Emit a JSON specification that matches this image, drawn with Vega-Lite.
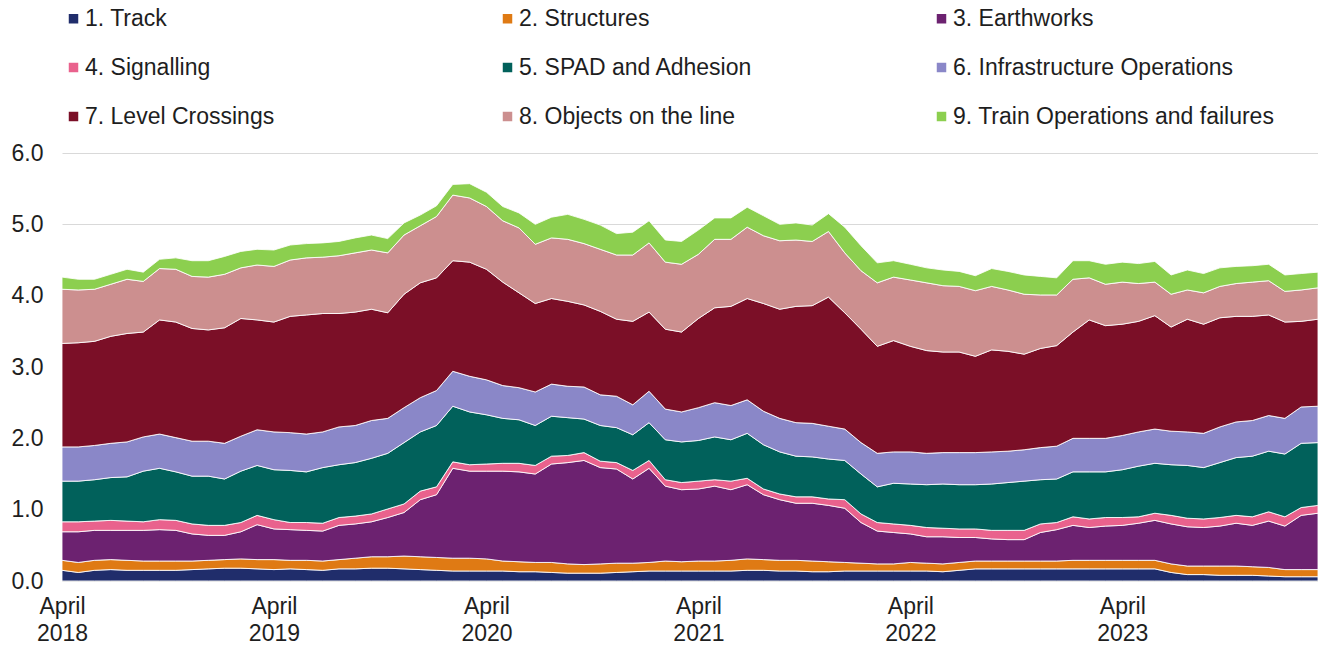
{
  "$schema": "https://vega.github.io/schema/vega-lite/v6.json",
  "width": 1256,
  "height": 428,
  "autosize": {"type": "none"},
  "padding": {"left": 62, "top": 153, "right": 0, "bottom": 66},
  "background": "white",
  "config": {
    "font": "Liberation Sans",
    "view": {"stroke": null}
  },
  "data": {
    "values": [
      {"date":"2018-04-01","1 Track":0.15,"2 Structures":0.14,"3 Earthworks":0.40,"4 Signalling":0.14,"5 SPAD and Adhesion":0.57,"6 Infrastructure Operations":0.48,"7 Level Crossings":1.45,"8 Objects on the line":0.76,"9 Train Operations and failures":0.17},
      {"date":"2018-04-29","1 Track":0.12,"2 Structures":0.14,"3 Earthworks":0.43,"4 Signalling":0.14,"5 SPAD and Adhesion":0.57,"6 Infrastructure Operations":0.48,"7 Level Crossings":1.46,"8 Objects on the line":0.74,"9 Train Operations and failures":0.15},
      {"date":"2018-05-27","1 Track":0.15,"2 Structures":0.14,"3 Earthworks":0.42,"4 Signalling":0.13,"5 SPAD and Adhesion":0.58,"6 Infrastructure Operations":0.48,"7 Level Crossings":1.46,"8 Objects on the line":0.73,"9 Train Operations and failures":0.14},
      {"date":"2018-06-24","1 Track":0.16,"2 Structures":0.14,"3 Earthworks":0.41,"4 Signalling":0.14,"5 SPAD and Adhesion":0.60,"6 Infrastructure Operations":0.48,"7 Level Crossings":1.50,"8 Objects on the line":0.73,"9 Train Operations and failures":0.14},
      {"date":"2018-07-22","1 Track":0.15,"2 Structures":0.14,"3 Earthworks":0.42,"4 Signalling":0.13,"5 SPAD and Adhesion":0.62,"6 Infrastructure Operations":0.49,"7 Level Crossings":1.52,"8 Objects on the line":0.76,"9 Train Operations and failures":0.14},
      {"date":"2018-08-19","1 Track":0.15,"2 Structures":0.13,"3 Earthworks":0.43,"4 Signalling":0.12,"5 SPAD and Adhesion":0.71,"6 Infrastructure Operations":0.48,"7 Level Crossings":1.47,"8 Objects on the line":0.71,"9 Train Operations and failures":0.13},
      {"date":"2018-09-16","1 Track":0.15,"2 Structures":0.13,"3 Earthworks":0.44,"4 Signalling":0.14,"5 SPAD and Adhesion":0.72,"6 Infrastructure Operations":0.48,"7 Level Crossings":1.60,"8 Objects on the line":0.72,"9 Train Operations and failures":0.13},
      {"date":"2018-10-14","1 Track":0.15,"2 Structures":0.13,"3 Earthworks":0.43,"4 Signalling":0.14,"5 SPAD and Adhesion":0.68,"6 Infrastructure Operations":0.48,"7 Level Crossings":1.62,"8 Objects on the line":0.74,"9 Train Operations and failures":0.16},
      {"date":"2018-11-11","1 Track":0.16,"2 Structures":0.12,"3 Earthworks":0.38,"4 Signalling":0.14,"5 SPAD and Adhesion":0.67,"6 Infrastructure Operations":0.49,"7 Level Crossings":1.58,"8 Objects on the line":0.73,"9 Train Operations and failures":0.22},
      {"date":"2018-12-09","1 Track":0.17,"2 Structures":0.12,"3 Earthworks":0.35,"4 Signalling":0.14,"5 SPAD and Adhesion":0.69,"6 Infrastructure Operations":0.49,"7 Level Crossings":1.56,"8 Objects on the line":0.74,"9 Train Operations and failures":0.23},
      {"date":"2019-01-06","1 Track":0.18,"2 Structures":0.12,"3 Earthworks":0.34,"4 Signalling":0.14,"5 SPAD and Adhesion":0.65,"6 Infrastructure Operations":0.50,"7 Level Crossings":1.62,"8 Objects on the line":0.75,"9 Train Operations and failures":0.25},
      {"date":"2019-02-03","1 Track":0.18,"2 Structures":0.13,"3 Earthworks":0.38,"4 Signalling":0.13,"5 SPAD and Adhesion":0.72,"6 Infrastructure Operations":0.49,"7 Level Crossings":1.65,"8 Objects on the line":0.71,"9 Train Operations and failures":0.23},
      {"date":"2019-03-03","1 Track":0.17,"2 Structures":0.13,"3 Earthworks":0.49,"4 Signalling":0.13,"5 SPAD and Adhesion":0.70,"6 Infrastructure Operations":0.50,"7 Level Crossings":1.54,"8 Objects on the line":0.77,"9 Train Operations and failures":0.22},
      {"date":"2019-04-01","1 Track":0.16,"2 Structures":0.14,"3 Earthworks":0.43,"4 Signalling":0.13,"5 SPAD and Adhesion":0.70,"6 Infrastructure Operations":0.53,"7 Level Crossings":1.54,"8 Objects on the line":0.78,"9 Train Operations and failures":0.23},
      {"date":"2019-04-29","1 Track":0.17,"2 Structures":0.12,"3 Earthworks":0.43,"4 Signalling":0.10,"5 SPAD and Adhesion":0.73,"6 Infrastructure Operations":0.53,"7 Level Crossings":1.63,"8 Objects on the line":0.79,"9 Train Operations and failures":0.21},
      {"date":"2019-05-27","1 Track":0.16,"2 Structures":0.13,"3 Earthworks":0.42,"4 Signalling":0.11,"5 SPAD and Adhesion":0.71,"6 Infrastructure Operations":0.53,"7 Level Crossings":1.67,"8 Objects on the line":0.80,"9 Train Operations and failures":0.20},
      {"date":"2019-06-24","1 Track":0.15,"2 Structures":0.13,"3 Earthworks":0.42,"4 Signalling":0.11,"5 SPAD and Adhesion":0.78,"6 Infrastructure Operations":0.50,"7 Level Crossings":1.66,"8 Objects on the line":0.79,"9 Train Operations and failures":0.20},
      {"date":"2019-07-22","1 Track":0.17,"2 Structures":0.13,"3 Earthworks":0.48,"4 Signalling":0.11,"5 SPAD and Adhesion":0.74,"6 Infrastructure Operations":0.53,"7 Level Crossings":1.59,"8 Objects on the line":0.81,"9 Train Operations and failures":0.20},
      {"date":"2019-08-19","1 Track":0.17,"2 Structures":0.15,"3 Earthworks":0.48,"4 Signalling":0.11,"5 SPAD and Adhesion":0.75,"6 Infrastructure Operations":0.52,"7 Level Crossings":1.59,"8 Objects on the line":0.83,"9 Train Operations and failures":0.21},
      {"date":"2019-09-16","1 Track":0.18,"2 Structures":0.16,"3 Earthworks":0.49,"4 Signalling":0.11,"5 SPAD and Adhesion":0.78,"6 Infrastructure Operations":0.53,"7 Level Crossings":1.56,"8 Objects on the line":0.83,"9 Train Operations and failures":0.21},
      {"date":"2019-10-14","1 Track":0.18,"2 Structures":0.16,"3 Earthworks":0.55,"4 Signalling":0.12,"5 SPAD and Adhesion":0.78,"6 Infrastructure Operations":0.49,"7 Level Crossings":1.48,"8 Objects on the line":0.84,"9 Train Operations and failures":0.20},
      {"date":"2019-11-11","1 Track":0.17,"2 Structures":0.18,"3 Earthworks":0.61,"4 Signalling":0.12,"5 SPAD and Adhesion":0.86,"6 Infrastructure Operations":0.49,"7 Level Crossings":1.59,"8 Objects on the line":0.83,"9 Train Operations and failures":0.17},
      {"date":"2019-12-09","1 Track":0.16,"2 Structures":0.18,"3 Earthworks":0.80,"4 Signalling":0.12,"5 SPAD and Adhesion":0.83,"6 Infrastructure Operations":0.48,"7 Level Crossings":1.61,"8 Objects on the line":0.80,"9 Train Operations and failures":0.15},
      {"date":"2020-01-06","1 Track":0.15,"2 Structures":0.18,"3 Earthworks":0.88,"4 Signalling":0.11,"5 SPAD and Adhesion":0.86,"6 Infrastructure Operations":0.49,"7 Level Crossings":1.58,"8 Objects on the line":0.86,"9 Train Operations and failures":0.15},
      {"date":"2020-02-03","1 Track":0.14,"2 Structures":0.18,"3 Earthworks":1.26,"4 Signalling":0.09,"5 SPAD and Adhesion":0.78,"6 Infrastructure Operations":0.49,"7 Level Crossings":1.55,"8 Objects on the line":0.92,"9 Train Operations and failures":0.15},
      {"date":"2020-03-03","1 Track":0.14,"2 Structures":0.18,"3 Earthworks":1.22,"4 Signalling":0.09,"5 SPAD and Adhesion":0.74,"6 Infrastructure Operations":0.50,"7 Level Crossings":1.60,"8 Objects on the line":0.90,"9 Train Operations and failures":0.20},
      {"date":"2020-04-01","1 Track":0.14,"2 Structures":0.17,"3 Earthworks":1.23,"4 Signalling":0.10,"5 SPAD and Adhesion":0.69,"6 Infrastructure Operations":0.49,"7 Level Crossings":1.55,"8 Objects on the line":0.88,"9 Train Operations and failures":0.20},
      {"date":"2020-04-29","1 Track":0.14,"2 Structures":0.14,"3 Earthworks":1.26,"4 Signalling":0.11,"5 SPAD and Adhesion":0.63,"6 Infrastructure Operations":0.46,"7 Level Crossings":1.45,"8 Objects on the line":0.86,"9 Train Operations and failures":0.20},
      {"date":"2020-05-27","1 Track":0.13,"2 Structures":0.14,"3 Earthworks":1.26,"4 Signalling":0.12,"5 SPAD and Adhesion":0.61,"6 Infrastructure Operations":0.45,"7 Level Crossings":1.33,"8 Objects on the line":0.91,"9 Train Operations and failures":0.21},
      {"date":"2020-06-24","1 Track":0.13,"2 Structures":0.13,"3 Earthworks":1.24,"4 Signalling":0.12,"5 SPAD and Adhesion":0.56,"6 Infrastructure Operations":0.47,"7 Level Crossings":1.24,"8 Objects on the line":0.83,"9 Train Operations and failures":0.28},
      {"date":"2020-07-22","1 Track":0.12,"2 Structures":0.14,"3 Earthworks":1.38,"4 Signalling":0.11,"5 SPAD and Adhesion":0.56,"6 Infrastructure Operations":0.45,"7 Level Crossings":1.20,"8 Objects on the line":0.85,"9 Train Operations and failures":0.29},
      {"date":"2020-08-19","1 Track":0.11,"2 Structures":0.13,"3 Earthworks":1.42,"4 Signalling":0.10,"5 SPAD and Adhesion":0.53,"6 Infrastructure Operations":0.44,"7 Level Crossings":1.19,"8 Objects on the line":0.87,"9 Train Operations and failures":0.35},
      {"date":"2020-09-16","1 Track":0.11,"2 Structures":0.12,"3 Earthworks":1.46,"4 Signalling":0.11,"5 SPAD and Adhesion":0.47,"6 Infrastructure Operations":0.45,"7 Level Crossings":1.15,"8 Objects on the line":0.86,"9 Train Operations and failures":0.34},
      {"date":"2020-10-14","1 Track":0.11,"2 Structures":0.13,"3 Earthworks":1.35,"4 Signalling":0.09,"5 SPAD and Adhesion":0.50,"6 Infrastructure Operations":0.43,"7 Level Crossings":1.17,"8 Objects on the line":0.87,"9 Train Operations and failures":0.34},
      {"date":"2020-11-11","1 Track":0.12,"2 Structures":0.13,"3 Earthworks":1.32,"4 Signalling":0.09,"5 SPAD and Adhesion":0.49,"6 Infrastructure Operations":0.44,"7 Level Crossings":1.08,"8 Objects on the line":0.90,"9 Train Operations and failures":0.30},
      {"date":"2020-12-09","1 Track":0.13,"2 Structures":0.12,"3 Earthworks":1.18,"4 Signalling":0.12,"5 SPAD and Adhesion":0.50,"6 Infrastructure Operations":0.42,"7 Level Crossings":1.17,"8 Objects on the line":0.93,"9 Train Operations and failures":0.32},
      {"date":"2021-01-06","1 Track":0.14,"2 Structures":0.12,"3 Earthworks":1.32,"4 Signalling":0.11,"5 SPAD and Adhesion":0.53,"6 Infrastructure Operations":0.44,"7 Level Crossings":1.11,"8 Objects on the line":0.97,"9 Train Operations and failures":0.31},
      {"date":"2021-02-03","1 Track":0.14,"2 Structures":0.14,"3 Earthworks":1.05,"4 Signalling":0.09,"5 SPAD and Adhesion":0.56,"6 Infrastructure Operations":0.43,"7 Level Crossings":1.12,"8 Objects on the line":0.94,"9 Train Operations and failures":0.31},
      {"date":"2021-03-03","1 Track":0.14,"2 Structures":0.13,"3 Earthworks":1.01,"4 Signalling":0.10,"5 SPAD and Adhesion":0.57,"6 Infrastructure Operations":0.42,"7 Level Crossings":1.12,"8 Objects on the line":0.95,"9 Train Operations and failures":0.32},
      {"date":"2021-04-01","1 Track":0.14,"2 Structures":0.14,"3 Earthworks":1.01,"4 Signalling":0.11,"5 SPAD and Adhesion":0.57,"6 Infrastructure Operations":0.46,"7 Level Crossings":1.25,"8 Objects on the line":0.90,"9 Train Operations and failures":0.34},
      {"date":"2021-04-29","1 Track":0.14,"2 Structures":0.14,"3 Earthworks":1.05,"4 Signalling":0.09,"5 SPAD and Adhesion":0.60,"6 Infrastructure Operations":0.48,"7 Level Crossings":1.33,"8 Objects on the line":0.96,"9 Train Operations and failures":0.30},
      {"date":"2021-05-27","1 Track":0.14,"2 Structures":0.15,"3 Earthworks":0.99,"4 Signalling":0.12,"5 SPAD and Adhesion":0.58,"6 Infrastructure Operations":0.48,"7 Level Crossings":1.39,"8 Objects on the line":0.94,"9 Train Operations and failures":0.30},
      {"date":"2021-06-24","1 Track":0.15,"2 Structures":0.16,"3 Earthworks":1.04,"4 Signalling":0.09,"5 SPAD and Adhesion":0.63,"6 Infrastructure Operations":0.47,"7 Level Crossings":1.42,"8 Objects on the line":1.00,"9 Train Operations and failures":0.28},
      {"date":"2021-07-22","1 Track":0.15,"2 Structures":0.15,"3 Earthworks":0.91,"4 Signalling":0.08,"5 SPAD and Adhesion":0.62,"6 Infrastructure Operations":0.47,"7 Level Crossings":1.51,"8 Objects on the line":0.95,"9 Train Operations and failures":0.28},
      {"date":"2021-08-19","1 Track":0.14,"2 Structures":0.15,"3 Earthworks":0.85,"4 Signalling":0.08,"5 SPAD and Adhesion":0.59,"6 Infrastructure Operations":0.47,"7 Level Crossings":1.53,"8 Objects on the line":0.96,"9 Train Operations and failures":0.23},
      {"date":"2021-09-16","1 Track":0.14,"2 Structures":0.15,"3 Earthworks":0.80,"4 Signalling":0.09,"5 SPAD and Adhesion":0.57,"6 Infrastructure Operations":0.47,"7 Level Crossings":1.63,"8 Objects on the line":0.93,"9 Train Operations and failures":0.24},
      {"date":"2021-10-14","1 Track":0.13,"2 Structures":0.15,"3 Earthworks":0.81,"4 Signalling":0.09,"5 SPAD and Adhesion":0.56,"6 Infrastructure Operations":0.47,"7 Level Crossings":1.65,"8 Objects on the line":0.90,"9 Train Operations and failures":0.23},
      {"date":"2021-11-11","1 Track":0.13,"2 Structures":0.14,"3 Earthworks":0.79,"4 Signalling":0.09,"5 SPAD and Adhesion":0.56,"6 Infrastructure Operations":0.46,"7 Level Crossings":1.81,"8 Objects on the line":0.92,"9 Train Operations and failures":0.25},
      {"date":"2021-12-09","1 Track":0.14,"2 Structures":0.12,"3 Earthworks":0.76,"4 Signalling":0.12,"5 SPAD and Adhesion":0.55,"6 Infrastructure Operations":0.44,"7 Level Crossings":1.63,"8 Objects on the line":0.84,"9 Train Operations and failures":0.36},
      {"date":"2022-01-06","1 Track":0.14,"2 Structures":0.11,"3 Earthworks":0.57,"4 Signalling":0.12,"5 SPAD and Adhesion":0.56,"6 Infrastructure Operations":0.44,"7 Level Crossings":1.59,"8 Objects on the line":0.82,"9 Train Operations and failures":0.35},
      {"date":"2022-02-03","1 Track":0.14,"2 Structures":0.10,"3 Earthworks":0.46,"4 Signalling":0.12,"5 SPAD and Adhesion":0.50,"6 Infrastructure Operations":0.47,"7 Level Crossings":1.50,"8 Objects on the line":0.89,"9 Train Operations and failures":0.28},
      {"date":"2022-03-03","1 Track":0.14,"2 Structures":0.10,"3 Earthworks":0.44,"4 Signalling":0.12,"5 SPAD and Adhesion":0.57,"6 Infrastructure Operations":0.44,"7 Level Crossings":1.56,"8 Objects on the line":0.89,"9 Train Operations and failures":0.23},
      {"date":"2022-04-01","1 Track":0.14,"2 Structures":0.12,"3 Earthworks":0.40,"4 Signalling":0.12,"5 SPAD and Adhesion":0.58,"6 Infrastructure Operations":0.45,"7 Level Crossings":1.48,"8 Objects on the line":0.93,"9 Train Operations and failures":0.22},
      {"date":"2022-04-29","1 Track":0.14,"2 Structures":0.11,"3 Earthworks":0.37,"4 Signalling":0.13,"5 SPAD and Adhesion":0.60,"6 Infrastructure Operations":0.44,"7 Level Crossings":1.44,"8 Objects on the line":0.95,"9 Train Operations and failures":0.21},
      {"date":"2022-05-27","1 Track":0.13,"2 Structures":0.11,"3 Earthworks":0.38,"4 Signalling":0.12,"5 SPAD and Adhesion":0.62,"6 Infrastructure Operations":0.44,"7 Level Crossings":1.41,"8 Objects on the line":0.93,"9 Train Operations and failures":0.22},
      {"date":"2022-06-24","1 Track":0.15,"2 Structures":0.11,"3 Earthworks":0.35,"4 Signalling":0.12,"5 SPAD and Adhesion":0.62,"6 Infrastructure Operations":0.45,"7 Level Crossings":1.41,"8 Objects on the line":0.92,"9 Train Operations and failures":0.21},
      {"date":"2022-07-22","1 Track":0.17,"2 Structures":0.11,"3 Earthworks":0.33,"4 Signalling":0.12,"5 SPAD and Adhesion":0.62,"6 Infrastructure Operations":0.45,"7 Level Crossings":1.35,"8 Objects on the line":0.92,"9 Train Operations and failures":0.21},
      {"date":"2022-08-19","1 Track":0.17,"2 Structures":0.11,"3 Earthworks":0.31,"4 Signalling":0.12,"5 SPAD and Adhesion":0.65,"6 Infrastructure Operations":0.45,"7 Level Crossings":1.43,"8 Objects on the line":0.89,"9 Train Operations and failures":0.25},
      {"date":"2022-09-16","1 Track":0.17,"2 Structures":0.11,"3 Earthworks":0.30,"4 Signalling":0.13,"5 SPAD and Adhesion":0.67,"6 Infrastructure Operations":0.44,"7 Level Crossings":1.40,"8 Objects on the line":0.86,"9 Train Operations and failures":0.26},
      {"date":"2022-10-14","1 Track":0.17,"2 Structures":0.11,"3 Earthworks":0.30,"4 Signalling":0.13,"5 SPAD and Adhesion":0.69,"6 Infrastructure Operations":0.44,"7 Level Crossings":1.34,"8 Objects on the line":0.84,"9 Train Operations and failures":0.27},
      {"date":"2022-11-11","1 Track":0.17,"2 Structures":0.11,"3 Earthworks":0.40,"4 Signalling":0.12,"5 SPAD and Adhesion":0.62,"6 Infrastructure Operations":0.45,"7 Level Crossings":1.39,"8 Objects on the line":0.75,"9 Train Operations and failures":0.26},
      {"date":"2022-12-09","1 Track":0.17,"2 Structures":0.11,"3 Earthworks":0.44,"4 Signalling":0.10,"5 SPAD and Adhesion":0.61,"6 Infrastructure Operations":0.46,"7 Level Crossings":1.41,"8 Objects on the line":0.71,"9 Train Operations and failures":0.24},
      {"date":"2023-01-06","1 Track":0.17,"2 Structures":0.12,"3 Earthworks":0.49,"4 Signalling":0.12,"5 SPAD and Adhesion":0.63,"6 Infrastructure Operations":0.47,"7 Level Crossings":1.49,"8 Objects on the line":0.74,"9 Train Operations and failures":0.26},
      {"date":"2023-02-03","1 Track":0.17,"2 Structures":0.12,"3 Earthworks":0.46,"4 Signalling":0.12,"5 SPAD and Adhesion":0.66,"6 Infrastructure Operations":0.47,"7 Level Crossings":1.66,"8 Objects on the line":0.59,"9 Train Operations and failures":0.24},
      {"date":"2023-03-03","1 Track":0.17,"2 Structures":0.12,"3 Earthworks":0.48,"4 Signalling":0.12,"5 SPAD and Adhesion":0.64,"6 Infrastructure Operations":0.47,"7 Level Crossings":1.58,"8 Objects on the line":0.58,"9 Train Operations and failures":0.28},
      {"date":"2023-04-01","1 Track":0.17,"2 Structures":0.12,"3 Earthworks":0.49,"4 Signalling":0.11,"5 SPAD and Adhesion":0.67,"6 Infrastructure Operations":0.48,"7 Level Crossings":1.56,"8 Objects on the line":0.59,"9 Train Operations and failures":0.28},
      {"date":"2023-04-29","1 Track":0.17,"2 Structures":0.12,"3 Earthworks":0.52,"4 Signalling":0.09,"5 SPAD and Adhesion":0.71,"6 Infrastructure Operations":0.48,"7 Level Crossings":1.55,"8 Objects on the line":0.53,"9 Train Operations and failures":0.28},
      {"date":"2023-05-27","1 Track":0.17,"2 Structures":0.12,"3 Earthworks":0.56,"4 Signalling":0.10,"5 SPAD and Adhesion":0.70,"6 Infrastructure Operations":0.48,"7 Level Crossings":1.59,"8 Objects on the line":0.47,"9 Train Operations and failures":0.29},
      {"date":"2023-06-24","1 Track":0.12,"2 Structures":0.12,"3 Earthworks":0.56,"4 Signalling":0.12,"5 SPAD and Adhesion":0.71,"6 Infrastructure Operations":0.47,"7 Level Crossings":1.46,"8 Objects on the line":0.46,"9 Train Operations and failures":0.27},
      {"date":"2023-07-22","1 Track":0.09,"2 Structures":0.12,"3 Earthworks":0.55,"4 Signalling":0.12,"5 SPAD and Adhesion":0.74,"6 Infrastructure Operations":0.47,"7 Level Crossings":1.58,"8 Objects on the line":0.41,"9 Train Operations and failures":0.28},
      {"date":"2023-08-19","1 Track":0.09,"2 Structures":0.12,"3 Earthworks":0.54,"4 Signalling":0.12,"5 SPAD and Adhesion":0.72,"6 Infrastructure Operations":0.48,"7 Level Crossings":1.53,"8 Objects on the line":0.44,"9 Train Operations and failures":0.27},
      {"date":"2023-09-16","1 Track":0.08,"2 Structures":0.13,"3 Earthworks":0.56,"4 Signalling":0.12,"5 SPAD and Adhesion":0.77,"6 Infrastructure Operations":0.50,"7 Level Crossings":1.53,"8 Objects on the line":0.44,"9 Train Operations and failures":0.26},
      {"date":"2023-10-14","1 Track":0.08,"2 Structures":0.13,"3 Earthworks":0.60,"4 Signalling":0.11,"5 SPAD and Adhesion":0.81,"6 Infrastructure Operations":0.50,"7 Level Crossings":1.48,"8 Objects on the line":0.46,"9 Train Operations and failures":0.24},
      {"date":"2023-11-11","1 Track":0.08,"2 Structures":0.12,"3 Earthworks":0.58,"4 Signalling":0.12,"5 SPAD and Adhesion":0.85,"6 Infrastructure Operations":0.50,"7 Level Crossings":1.46,"8 Objects on the line":0.48,"9 Train Operations and failures":0.23},
      {"date":"2023-12-09","1 Track":0.07,"2 Structures":0.12,"3 Earthworks":0.65,"4 Signalling":0.13,"5 SPAD and Adhesion":0.85,"6 Infrastructure Operations":0.50,"7 Level Crossings":1.41,"8 Objects on the line":0.48,"9 Train Operations and failures":0.23},
      {"date":"2024-01-06","1 Track":0.06,"2 Structures":0.10,"3 Earthworks":0.61,"4 Signalling":0.13,"5 SPAD and Adhesion":0.88,"6 Infrastructure Operations":0.50,"7 Level Crossings":1.35,"8 Objects on the line":0.43,"9 Train Operations and failures":0.23},
      {"date":"2024-02-03","1 Track":0.06,"2 Structures":0.10,"3 Earthworks":0.76,"4 Signalling":0.11,"5 SPAD and Adhesion":0.90,"6 Infrastructure Operations":0.51,"7 Level Crossings":1.20,"8 Objects on the line":0.44,"9 Train Operations and failures":0.23},
      {"date":"2024-03-03","1 Track":0.06,"2 Structures":0.10,"3 Earthworks":0.79,"4 Signalling":0.11,"5 SPAD and Adhesion":0.88,"6 Infrastructure Operations":0.51,"7 Level Crossings":1.22,"8 Objects on the line":0.44,"9 Train Operations and failures":0.22}
    ]
  },
  "transform": [
    {"fold": ["1 Track","2 Structures","3 Earthworks","4 Signalling","5 SPAD and Adhesion","6 Infrastructure Operations","7 Level Crossings","8 Objects on the line","9 Train Operations and failures"], "as": ["series","value"]}
  ],
  "mark": {"type": "area", "stroke": "white", "strokeWidth": 1, "strokeOpacity": 0.85, "interpolate": "linear"},
  "encoding": {
    "x": {
      "field": "date",
      "type": "temporal",
      "title": null,
      "scale": {
        "type": "utc",
        "nice": false,
        "domain": [{"year": 2018, "month": 4, "date": 1, "utc": true}, {"year": 2024, "month": 3, "date": 3, "utc": true}]
      },
      "axis": {
        "values": [
          {"year": 2018, "month": 4, "date": 1, "utc": true},
          {"year": 2019, "month": 4, "date": 1, "utc": true},
          {"year": 2020, "month": 4, "date": 1, "utc": true},
          {"year": 2021, "month": 4, "date": 1, "utc": true},
          {"year": 2022, "month": 4, "date": 1, "utc": true},
          {"year": 2023, "month": 4, "date": 1, "utc": true}
        ],
        "labelExpr": "[utcFormat(datum.value, '%B'), utcFormat(datum.value, '%Y')]",
        "labelFontSize": 23,
        "labelColor": "#1e1e1e",
        "labelLineHeight": 27,
        "labelPadding": 14,
        "labelFlush": false,
        "labelOverlap": false,
        "ticks": false,
        "tickSize": 0,
        "grid": false,
        "domain": true,
        "domainColor": "#d9d9d9"
      }
    },
    "y": {
      "field": "value",
      "type": "quantitative",
      "stack": "zero",
      "title": null,
      "scale": {"domain": [0, 6], "nice": false},
      "axis": {
        "values": [0, 1, 2, 3, 4, 5, 6],
        "format": ".1f",
        "labelFontSize": 23,
        "labelColor": "#1e1e1e",
        "labelPadding": 19,
        "ticks": false,
        "tickSize": 0,
        "domain": false,
        "grid": true,
        "gridColor": "#d9d9d9",
        "gridWidth": 1
      }
    },
    "color": {
      "field": "series",
      "type": "nominal",
      "scale": {
        "domain": ["1 Track","2 Structures","3 Earthworks","4 Signalling","5 SPAD and Adhesion","6 Infrastructure Operations","7 Level Crossings","8 Objects on the line","9 Train Operations and failures"],
        "range": ["#202d6b","#df7a14","#6c2270","#e9628d","#01615b","#8a87c8","#7b0f27","#cc8f8f","#8ccf4f"]
      },
      "legend": {
        "title": null,
        "orient": "top",
        "direction": "horizontal",
        "columns": 3,
        "gridAlign": "all",
        "columnPadding": 89,
        "rowPadding": 25,
        "offset": 24,
        "padding": 0,
        "symbolType": "square",
        "symbolSize": 90,
        "symbolStrokeWidth": 0,
        "labelFontSize": 23,
        "labelColor": "#1e1e1e",
        "labelOffset": 0,
        "labelLimit": 400,
        "labelExpr": "replace(datum.label, ' ', '. ')"
      }
    },
    "order": {"field": "series", "sort": "ascending"}
  }
}
